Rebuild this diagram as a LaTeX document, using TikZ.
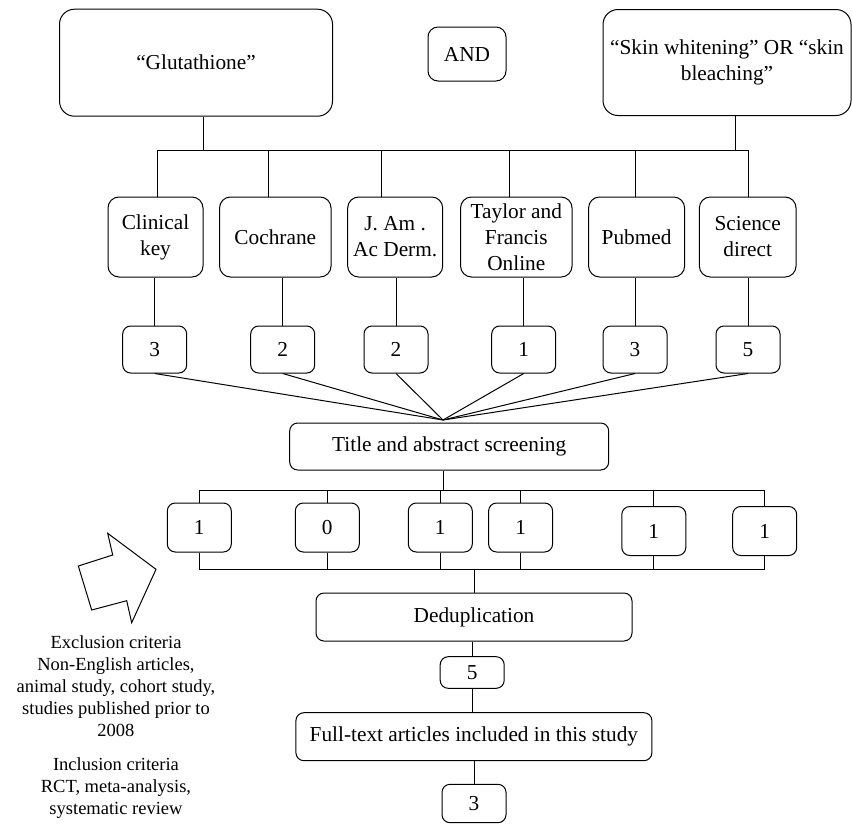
\documentclass[tikz,border=0pt]{standalone}
\usepackage{fontspec}
\setmainfont{Liberation Serif}
\usepackage{tikz}

\begin{document}
\begin{tikzpicture}[x=1pt,y=-1pt,line width=1pt,
  font=\fontsize{21.3}{26}\selectfont,
  keybox/.style={draw,rounded corners=15pt,align=center,inner sep=0pt},
  dbbox/.style={draw,rounded corners=11pt,align=center,inner sep=0pt,minimum height=80pt},
  numbox/.style={draw,rounded corners=8pt,inner sep=0pt,minimum width=64pt},
  stagebox/.style={draw,rounded corners=8pt,inner sep=0pt,minimum height=48pt},
  crit/.style={align=center,font=\fontsize{18.5}{22}\selectfont}]
\useasboundingbox (0,0) rectangle (852,823);
% search terms
\node[keybox,minimum width=273pt,minimum height=107pt] (glut) at (196,62.7) {“Glutathione”};
\node[keybox,rounded corners=10pt,minimum width=78pt,minimum height=54pt] (and) at (467,54) {AND};
\node[keybox,minimum width=248pt,minimum height=106pt] (skin) at (727,62.5) {“Skin whitening” OR “skin\\bleaching”};
% databases
\node[dbbox,minimum width=95pt] (clin) at (155.5,237) {Clinical\\key};
\node[dbbox,minimum width=111.5pt] (coch) at (275.3,237) {Cochrane};
\node[dbbox,minimum width=95pt] (jam) at (395.2,237) {J. Am .\\Ac Derm.};
\node[dbbox,minimum width=111.5pt] (tayl) at (516.3,237) {Taylor and\\Francis\\Online};
\node[dbbox,minimum width=96pt] (pubm) at (636.6,237) {Pubmed};
\node[dbbox,minimum width=96.7pt] (scid) at (747.7,237) {Science\\direct};
\coordinate (busL) at (157,150);
\coordinate (busR) at (749,150);
\draw ([xshift=7pt]glut.south) |- (busL);
\draw ([xshift=8pt]skin.south) |- (busR);
\draw (busL) -- (busR);
\foreach \nm/\dx in {clin/1.5,coch/-6.7,jam/-13.7,tayl/-6.7,pubm/-1.1,scid/0.8}
  \draw ([xshift=\dx pt]\nm.north) -- ([xshift=\dx pt]\nm.north |- busL);
% hits per database
\node[numbox,minimum height=47pt] (n1) at (154.7,349.5) {3};
\node[numbox,minimum height=47pt] (n2) at (282.7,349.5) {2};
\node[numbox,minimum height=47pt] (n3) at (396,349.5) {2};
\node[numbox,minimum height=47pt] (n4) at (523.7,349.5) {1};
\node[numbox,minimum height=47pt] (n5) at (635,349.5) {3};
\node[numbox,minimum height=47pt] (n6) at (748,349.5) {5};
\foreach \nb/\nm in {n1/clin,n2/coch,n3/jam,n4/tayl,n5/pubm,n6/scid}
  \draw (\nb.north) -- (\nb.north |- \nm.south);
% screening
\node[stagebox,minimum width=319pt,minimum height=47pt] (title) at (449.2,446.5) {Title and abstract screening};
\coordinate (conv) at (443,420);
\foreach \nb in {n1,n2,n3,n4,n5,n6}
  \draw (\nb.south) -- (conv);
\node[numbox,minimum height=49pt] (m1) at (199.3,527.5) {1};
\node[numbox,minimum height=49pt] (m2) at (327.3,527.5) {0};
\node[numbox,minimum height=49pt] (m3) at (440.3,527.5) {1};
\node[numbox,minimum height=49pt] (m4) at (520.6,527.5) {1};
\node[numbox,minimum height=49pt] (m5) at (653.8,531) {1};
\node[numbox,minimum height=49pt] (m6) at (764.7,531) {1};
\coordinate (b2) at (0,490);
\coordinate (b3) at (0,569);
\draw ([xshift=-6pt]title.south) -- ([xshift=-6pt]title.south |- b2);
\draw (m1.north |- b2) -- (m6.north |- b2);
\draw (m1.south |- b3) -- (m6.south |- b3);
\foreach \m in {m1,m2,m3,m4,m5,m6}{
  \draw (\m.north) -- (\m.north |- b2);
  \draw (\m.south) -- (\m.south |- b3);
}
% final steps
\node[stagebox,minimum width=316pt] (dedup) at (474,617) {Deduplication};
\node[numbox,minimum height=31.6pt] (five) at (472.2,672.5) {5};
\node[stagebox,minimum width=356pt] (full) at (473.9,736.7) {Full-text articles included in this study};
\node[numbox,minimum height=38.4pt] (three) at (474,803.5) {3};
\draw (dedup.north) -- (dedup.north |- b3);
\draw (five.north |- dedup.south) -- (five.north);
\draw (five.south) -- (five.south |- full.north);
\draw (three.north |- full.south) -- (three.north);
% criteria
\draw (156,569.3) -- (107.7,533.3) -- (112.7,555) -- (78.3,566) -- (91.7,610) -- (126.7,600.7) -- (131.7,622.7) -- cycle;
\node[crit] (excl) at (116,686) {Exclusion criteria\\Non-English articles,\\animal study, cohort study,\\studies published prior to\\2008};
\node[crit] (incl) at (116,788) {Inclusion criteria\\RCT, meta-analysis,\\systematic review};
\end{tikzpicture}
\end{document}
